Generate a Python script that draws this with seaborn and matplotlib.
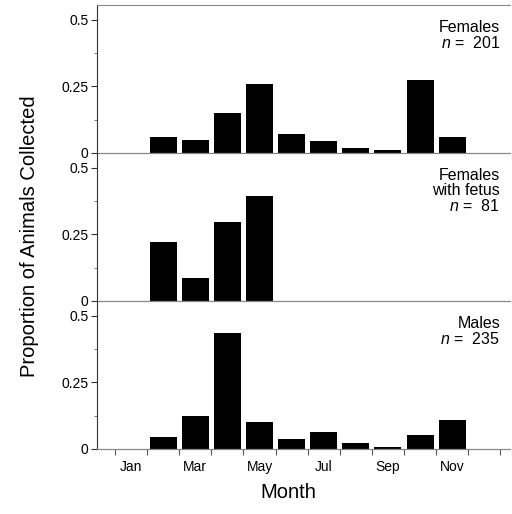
import matplotlib
matplotlib.use("Agg")
import matplotlib.pyplot as plt
import seaborn as sns
import pandas as pd
import numpy as np

sns.set_theme(style="white", rc={"text.color": "black", "axes.labelcolor": "black",
                                 "xtick.color": "black", "ytick.color": "black"})
plt.rcParams["font.family"] = ["Liberation Sans", "DejaVu Sans"]
plt.rcParams["mathtext.fontset"] = "custom"
plt.rcParams["mathtext.it"] = "Liberation Sans:italic"
plt.rcParams["mathtext.rm"] = "Liberation Sans"

months = ["Jan", "Feb", "Mar", "Apr", "May", "Jun",
          "Jul", "Aug", "Sep", "Oct", "Nov", "Dec"]
labelled_months = ["Jan", "Mar", "May", "Jul", "Sep", "Nov"]

females = [0.0, 0.060, 0.050, 0.149, 0.259, 0.070, 0.045, 0.020, 0.010, 0.275, 0.060, 0.0]
females_fetus = [0.0, 0.222, 0.086, 0.296, 0.395, 0.0, 0.0, 0.0, 0.0, 0.0, 0.0, 0.0]
males = [0.0, 0.044, 0.122, 0.435, 0.100, 0.039, 0.064, 0.021, 0.006, 0.051, 0.109, 0.0]

panel_titles = ["Females", "Females\nwith fetus", "Males"]
panel_n = [201, 81, 235]
panel_values = [females, females_fetus, males]

fig = plt.figure(figsize=(5.12, 5.14), dpi=100)
left, right = 97 / 512, 510 / 512
top_px, panel_px = 5, 148
axes = []
for i in range(3):
    y0 = 1 - (top_px + panel_px * (i + 1)) / 514
    ax = fig.add_axes([left, y0, right - left, panel_px / 514])
    axes.append(ax)

for i, ax in enumerate(axes):
    df = pd.DataFrame({"month": months, "prop": panel_values[i]})
    sns.barplot(data=df, x="month", y="prop", order=months, color="black",
                width=0.84, linewidth=0, saturation=1, ax=ax)
    ax.set_xlim(-1.06, 11.8)
    ax.set_ylim(0, 0.555)
    ax.set_xlabel("")
    ax.set_ylabel("")
    ax.set_facecolor("none")

    ax.set_yticks([0, 0.25, 0.5])
    ax.set_yticklabels(["0", "0.25", "0.5"], fontsize=10)
    ax.set_yticks([0.125, 0.375], minor=True)
    ax.tick_params(axis="y", which="major", direction="out", length=4,
                   width=0.8, color="#333333", left=True, pad=2)
    ax.tick_params(axis="y", which="minor", direction="out", length=2.5,
                   width=0.6, color="#666666", left=True)

    ax.spines["right"].set_visible(False)
    ax.spines["top"].set_visible(i == 0)
    ax.spines["top"].set_color("#888888")
    ax.spines["top"].set_linewidth(0.8)
    ax.spines["left"].set_color("#333333")
    ax.spines["left"].set_linewidth(0.8)
    ax.spines["bottom"].set_color("#888888")
    ax.spines["bottom"].set_linewidth(0.9)

    boundaries = np.arange(-0.5, 12, 1.0)
    ax.set_xticks(boundaries)
    ax.set_xticks([months.index(m) for m in labelled_months], minor=True)
    if i == 2:
        ax.set_xticklabels([""] * len(boundaries))
        ax.set_xticklabels(labelled_months, minor=True, fontsize=10)
        ax.tick_params(axis="x", which="major", direction="out", length=4,
                       width=0.8, color="#555555", bottom=True)
        ax.tick_params(axis="x", which="minor", length=0, pad=8)
    else:
        ax.set_xticklabels([])
        ax.set_xticklabels([], minor=True)
        ax.tick_params(axis="x", which="both", length=0)

    ax.text(0.976, 0.9, panel_titles[i] + "\n" + r"$n$ =  " + str(panel_n[i]),
            transform=ax.transAxes, ha="right", va="top",
            multialignment="right", fontsize=11.5, linespacing=1.0)

fig.text(0.058, 0.54, "Proportion of Animals Collected", rotation=90,
         ha="center", va="center", fontsize=14.5)
fig.text(0.564, 0.041, "Month", ha="center", va="center", fontsize=14.5)

fig.savefig("out.png", dpi=100)
